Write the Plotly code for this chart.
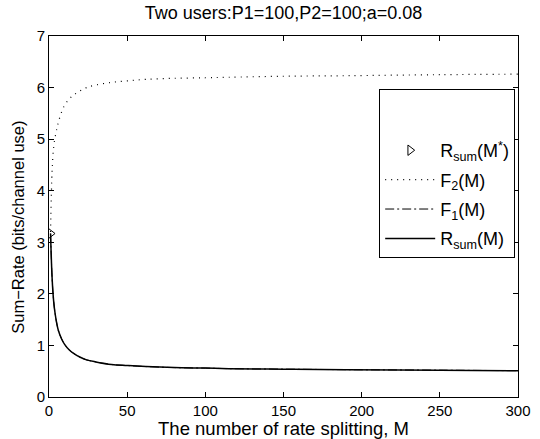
import plotly.graph_objects as go

# values
m_vals = [1, 2, 3, 4, 5, 6, 8, 10, 13, 16, 20, 24, 30, 40, 50, 62, 80, 100, 115, 150, 190, 250, 300]
f2_vals = [3.2, 4.4, 4.85, 5.05, 5.2, 5.33, 5.52, 5.66, 5.78, 5.86, 5.94, 6.0, 6.05, 6.1, 6.13, 6.16, 6.18, 6.19, 6.2, 6.22, 6.23, 6.25, 6.26]
rsum_vals = [3.17, 2.3, 1.85, 1.6, 1.42, 1.29, 1.13, 1.02, 0.91, 0.84, 0.77, 0.72, 0.68, 0.63, 0.61, 0.59, 0.57, 0.56, 0.55, 0.54, 0.53, 0.52, 0.51]
f1_vals = rsum_vals
m_star = [1]
rsum_star = [3.17]

fig = go.Figure()
fig.add_trace(go.Scatter(
    x=m_vals, y=f2_vals, mode="lines", name="F<sub>2</sub>(M)", legendgroup="f2",
    line=dict(color="black", width=1.2, dash="1px,5px", shape="spline"),
    legendrank=2,
))
fig.add_trace(go.Scatter(
    x=m_vals, y=f1_vals, mode="lines", name="F<sub>1</sub>(M)", legendgroup="f1",
    line=dict(color="black", width=1, dash="9px,3px,2px,3px", shape="spline"),
    legendrank=3,
))
fig.add_trace(go.Scatter(
    x=m_vals, y=rsum_vals, mode="lines", name="R<sub>sum</sub>(M)", legendgroup="rsum",
    line=dict(color="black", width=1.5, shape="spline"),
    legendrank=4,
))
fig.add_trace(go.Scatter(
    x=m_star, y=rsum_star, mode="markers", name="R<sub>sum</sub>(M<sup>*</sup>)", legendgroup="star",
    marker=dict(symbol="triangle-right-open", size=9, color="black", line=dict(width=1)),
    legendrank=1,
))

axis_common = dict(
    showline=True, linecolor="black", linewidth=1, mirror="ticks",
    ticks="inside", ticklen=5, tickcolor="black", showgrid=False, zeroline=False,
    tickfont=dict(size=15, color="black"), automargin=False,
)
fig.update_layout(
    width=540, height=439,
    paper_bgcolor="white", plot_bgcolor="white",
    font=dict(family="Liberation Sans, Arial, sans-serif", color="black"),
    title=dict(text="Two users:P1=100,P2=100;a=0.08", x=0.525, xanchor="center",
               y=0.985, yanchor="top", font=dict(size=18)),
    xaxis=dict(range=[0, 300], tickvals=[0, 50, 100, 150, 200, 250, 300],
               title=dict(text="The number of rate splitting, M", font=dict(size=18.5), standoff=0),
               **axis_common),
    yaxis=dict(range=[0, 7], tickvals=[0, 1, 2, 3, 4, 5, 6, 7], **axis_common),
    legend=dict(x=0.994, xanchor="right", y=0.852, yanchor="top",
                bordercolor="black", borderwidth=1, bgcolor="white",
                font=dict(size=18), itemwidth=50, tracegroupgap=3,
                traceorder="grouped",
                title=dict(text=" ", font=dict(size=32))),
    showlegend=True,
    margin=dict(l=49, r=22, t=36, b=42),
)
fig.add_annotation(
    text="Sum\u2212Rate (bits/channel use)", textangle=-90,
    xref="paper", yref="paper", x=-0.066, y=0.469,
    xanchor="center", yanchor="middle", showarrow=False,
    font=dict(size=16.5, color="black"),
)

fig.write_html("out.html", config={"displayModeBar": False},
               post_script="document.body.style.margin='0';")
